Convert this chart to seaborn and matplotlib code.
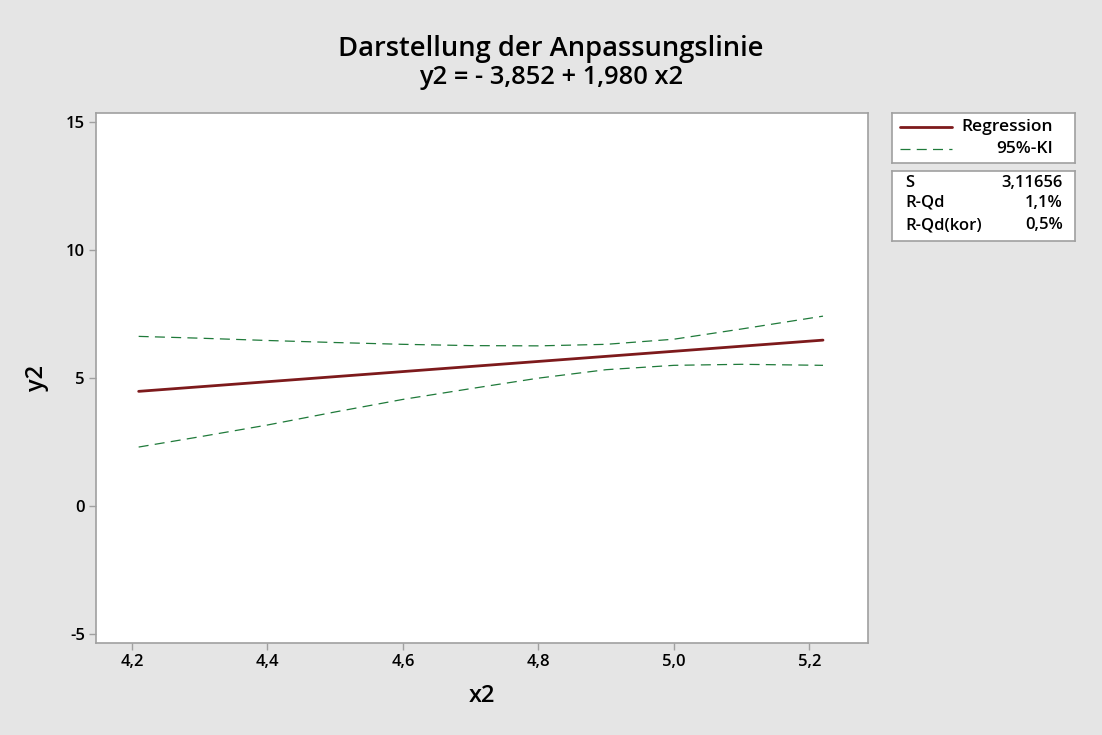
import numpy as np
import pandas as pd
import matplotlib
matplotlib.use("Agg")
import matplotlib.pyplot as plt
import seaborn as sns

# fitted line y2 = -3.852 + 1.980 x2, read at the ends of the data range
fit_x = [4.21, 5.22]
fit_y = [4.484, 6.484]

# 95% confidence band
ci_x = [4.21, 4.30, 4.40, 4.50, 4.60, 4.70, 4.80, 4.90, 5.00, 5.10, 5.22]
ci_upper = [6.63, 6.56, 6.47, 6.39, 6.32, 6.27, 6.26, 6.32, 6.52, 6.92, 7.42]
ci_lower = [2.31, 2.71, 3.17, 3.68, 4.17, 4.59, 5.00, 5.33, 5.50, 5.54, 5.50]

x_ticks = [4.2, 4.4, 4.6, 4.8, 5.0, 5.2]
y_ticks = [-5, 0, 5, 10, 15]

stat_names = ["S", "R-Qd", "R-Qd(kor)"]
stat_values = ["3,11656", "1,1%", "0,5%"]

title = "Darstellung der Anpassungslinie"
subtitle = "y2 = - 3,852 + 1,980 x2"

reg_color = "#7d1a1c"
ci_color = "#1f7a3a"
bg = "#e5e5e5"
edge = "#a0a0a0"

sns.set_theme(style="white")
plt.rcParams["font.family"] = ["Open Sans", "DejaVu Sans"]
plt.rcParams["text.color"] = "black"
plt.rcParams["axes.labelcolor"] = "black"
plt.rcParams["font.weight"] = "semibold"

fig = plt.figure(figsize=(11.02, 7.35), dpi=100, facecolor=bg)
ax = fig.add_axes([0.0871, 0.1248, 0.7003, 0.7211])
ax.set_facecolor("white")

fit_df = pd.DataFrame({"x2": fit_x, "y2": fit_y})
ci_df = pd.DataFrame({"x2": ci_x, "upper": ci_upper, "lower": ci_lower})

sns.lineplot(data=fit_df, x="x2", y="y2", ax=ax, color=reg_color, lw=2.0)
for col in ["upper", "lower"]:
    sns.lineplot(data=ci_df, x="x2", y=col, ax=ax, color=ci_color, lw=0.9,
                 dashes=False, linestyle=(0, (8, 5)))

ax.set_xlim(4.147, 5.286)
ax.set_ylim(-5.35, 15.34)
ax.set_xticks(x_ticks)
ax.set_yticks(y_ticks)
ax.set_xticklabels([f"{t:.1f}".replace(".", ",") for t in x_ticks])
ax.set_yticklabels([str(t) for t in y_ticks])
ax.tick_params(axis="both", which="both", direction="out", length=5, width=1,
               color=edge, labelsize=12, labelcolor="black", pad=3,
               bottom=True, left=True)
for s in ax.spines.values():
    s.set_color(edge)
    s.set_linewidth(1.2)

ax.set_xlabel("x2", fontsize=17, fontweight="semibold", labelpad=10)
ax.set_ylabel("y2", fontsize=17, fontweight="semibold", labelpad=12)

fig.text(0.5, 0.933, title, ha="center", va="center", fontsize=19.7, fontweight="semibold")
fig.text(0.5, 0.894, subtitle, ha="center", va="center", fontsize=18.4, fontweight="semibold")

# legend box
lax = fig.add_axes([0.8097, 0.7778, 0.1658, 0.068])
lax.set_xlim(0, 1)
lax.set_ylim(0, 1)
lax.set_xticks([])
lax.set_yticks([])
lax.set_facecolor("white")
for s in lax.spines.values():
    s.set_color(edge)
    s.set_linewidth(1.2)
lax.plot([0.042, 0.327], [0.726, 0.726], color=reg_color, lw=2.0)
lax.plot([0.042, 0.327], [0.286, 0.286], color=ci_color, lw=0.9, linestyle=(0, (8, 5)))
lax.text(0.88, 0.726, "Regression", ha="right", va="center", fontsize=12.5)
lax.text(0.88, 0.286, "95%-KI", ha="right", va="center", fontsize=12.5)

# summary box
sax = fig.add_axes([0.8097, 0.6725, 0.1658, 0.0952])
sax.set_xlim(0, 1)
sax.set_ylim(0, 1)
sax.set_xticks([])
sax.set_yticks([])
sax.set_facecolor("white")
for s in sax.spines.values():
    s.set_color(edge)
    s.set_linewidth(1.2)
for name, val, yy in zip(stat_names, stat_values, [0.824, 0.539, 0.224]):
    sax.text(0.07, yy, name, ha="left", va="center", fontsize=12)
    sax.text(0.932, yy, val, ha="right", va="center", fontsize=12)

fig.savefig("out.png", dpi=100, facecolor=bg)
